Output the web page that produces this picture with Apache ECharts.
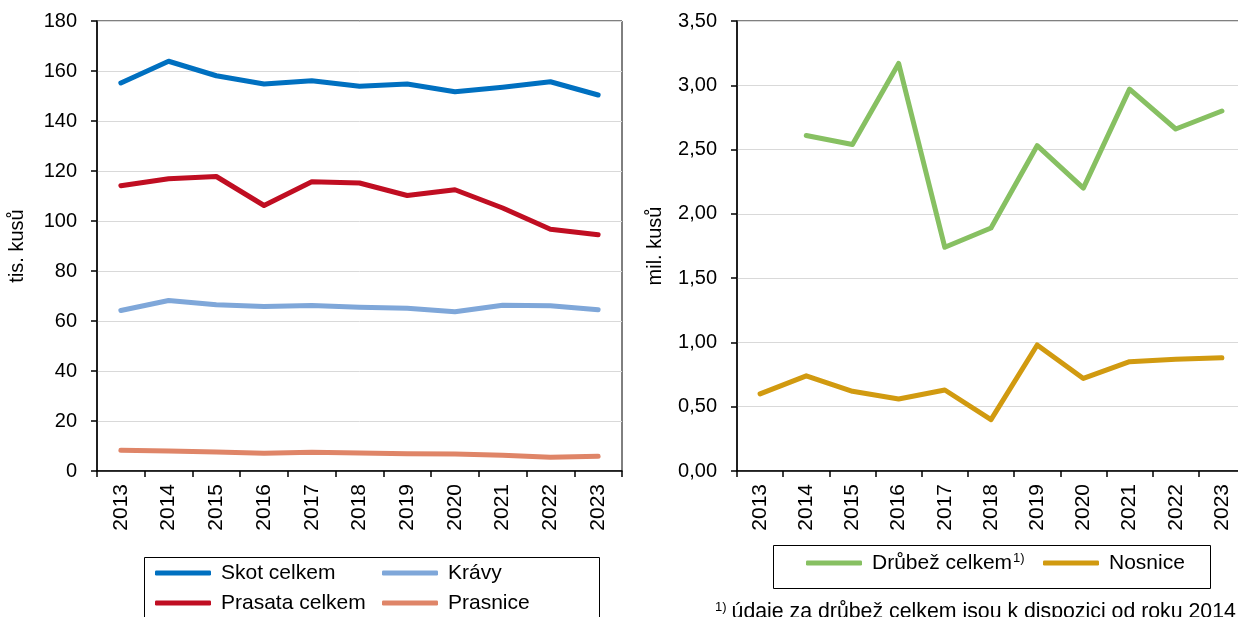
<!DOCTYPE html>
<html><head><meta charset="utf-8">
<script src="https://cdn.jsdelivr.net/npm/echarts@6/dist/echarts.min.js"></script>
<style>html,body{margin:0;padding:0;background:#fff}#c{width:1238px;height:617px}</style>
</head><body><div id="c"></div>
<script>
const years = ['2013','2014','2015','2016','2017','2018','2019','2020','2021','2022','2023'];
const leftTicks = [0,20,40,60,80,100,120,140,160,180];
const skotCelkem = [155.2,163.9,158.1,154.8,156.1,153.9,154.8,151.7,153.5,155.7,150.4];
const kravy = [64.2,68.2,66.5,65.8,66.2,65.5,65.1,63.7,66.3,66.1,64.5];
const prasataCelkem = [114.1,116.9,117.8,106.2,115.7,115.2,110.2,112.5,105.2,96.7,94.5];
const prasnice = [8.3,8.0,7.6,7.1,7.5,7.2,6.9,6.8,6.3,5.5,5.9];
const drubezCelkem = [null,2.61,2.54,3.17,1.74,1.89,2.53,2.20,2.97,2.66,2.80];
const nosnice = [0.60,0.74,0.62,0.56,0.63,0.40,0.98,0.72,0.85,0.87,0.88];

const FONT = 'Liberation Sans, Arial, sans-serif';
const C = {skot:'#0070C0', kravy:'#7FA7D9', prasata:'#C00E22', prasnice:'#DF8568', drubez:'#87C062', nosnice:'#D19A10'};

function xAx(gi){return {type:'category', gridIndex:gi, data:years, boundaryGap:true,
  axisLine:{show:true, lineStyle:{color:'#000', width:1.5}},
  axisTick:{show:true, length:6, lineStyle:{color:'#000', width:1.5}},
  axisLabel:{rotate:90, margin:13, color:'#000', fontSize:21, fontFamily:FONT},
  splitLine:{show:false}};}
function yAx(gi,min,max,intv,name,gap,fmt){return {type:'value', gridIndex:gi, min:min, max:max, interval:intv,
  name:name, nameLocation:'middle', nameRotate:90, nameGap:gap,
  nameTextStyle:{color:'#000', fontSize:20, fontFamily:FONT},
  axisLine:{show:true, lineStyle:{color:'#000', width:1.5}},
  axisTick:{show:true, length:6, lineStyle:{color:'#000', width:1.5}},
  axisLabel:{margin:20, color:'#000', fontSize:20, fontFamily:FONT, formatter:fmt},
  splitLine:{show:true, lineStyle:{color:'#D9D9D9', width:1}}};}
function ser(name,data,color,gi){return {name:name, type:'line', xAxisIndex:gi, yAxisIndex:gi, data:data,
  symbol:'none', connectNulls:false, color:color,
  lineStyle:{color:color, width:5, cap:'round', join:'round'}, emphasis:{disabled:true}};}
const legText = {color:'#000', fontSize:21, fontFamily:FONT, width:150, padding:[0,0,0,5], lineHeight:22,
  rich:{a:{fontSize:21, fontFamily:FONT, color:'#000', verticalAlign:'bottom', lineHeight:22},
        s:{fontSize:13, fontFamily:FONT, color:'#000', verticalAlign:'bottom', padding:[0,0,9,1], lineHeight:22}}};
function leg(names,left,top){return {data:names, left:left, top:top, orient:'horizontal', padding:0,
  icon:'roundRect', itemWidth:56, itemHeight:5, itemGap:11, textStyle:legText, selectedMode:false,
  formatter:function(n){return n==='Drůbež celkem' ? '{a|Drůbež celkem}{s|1)}' : n;}};}

const chart = echarts.init(document.getElementById('c'), null, {renderer:'canvas'});
chart.setOption({
  animation:false,
  textStyle:{fontFamily:FONT},
  grid:[
    {left:97, top:21, width:525, height:450, show:true, borderColor:'#000', borderWidth:1, outerBoundsMode:'none'},
    {left:737, top:21, width:508, height:450, show:true, borderColor:'#000', borderWidth:1, outerBoundsMode:'none'}
  ],
  xAxis:[xAx(0), xAx(1)],
  yAxis:[
    yAx(0,0,180,20,'tis. kusů',70,function(v){return String(v);}),
    yAx(1,0,3.5,0.5,'mil. kusů',72,function(v){return v.toFixed(2).replace('.',',');})
  ],
  legend:[
    leg(['Skot celkem','Krávy'],155,562),
    leg(['Prasata celkem','Prasnice'],155,592),
    leg(['Drůbež celkem'],806,552),
    leg(['Nosnice'],1043,552)
  ],
  graphic:[
    {type:'rect', shape:{x:144.5, y:557.5, width:455, height:80}, style:{fill:'none', stroke:'#000', lineWidth:1}, silent:true},
    {type:'rect', shape:{x:773.5, y:545.5, width:437, height:43}, style:{fill:'none', stroke:'#000', lineWidth:1}, silent:true},
    {type:'text', left:715, top:601, silent:true, style:{text:'{s|1)}{a|údaje za drůbež celkem jsou k dispozici od roku 2014}',
      rich:{a:{fontSize:21.3, fontFamily:FONT, fill:'#000', verticalAlign:'bottom', lineHeight:22, padding:[0,0,0,5]},
            s:{fontSize:13, fontFamily:FONT, fill:'#000', verticalAlign:'bottom', padding:[0,0,9,0], lineHeight:22}}}}
  ],
  series:[
    ser('Prasnice',prasnice,C.prasnice,0),
    ser('Krávy',kravy,C.kravy,0),
    ser('Prasata celkem',prasataCelkem,C.prasata,0),
    ser('Skot celkem',skotCelkem,C.skot,0),
    ser('Nosnice',nosnice,C.nosnice,1),
    ser('Drůbež celkem',drubezCelkem,C.drubez,1)
  ]
});
</script></body></html>
